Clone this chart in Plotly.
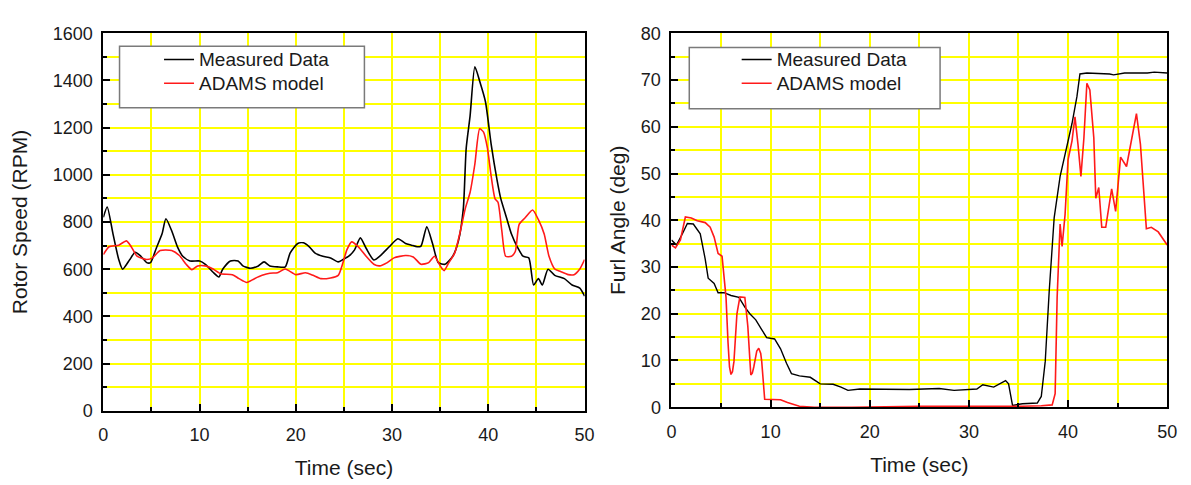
import plotly.graph_objects as go

# ---------------- data ----------------
# Left panel: Rotor speed (RPM)
rs_meas_t = [0, 0.4, 1.0, 1.6, 2.0, 2.75, 3.3, 3.9, 4.5, 4.9, 5.5, 6.1, 6.5, 7.1, 7.7, 8.25, 9.0, 10.0,
             10.6, 11.4, 12.0, 12.4, 13.2, 14.0, 14.5, 15.3, 16.1, 16.7, 17.3, 18.1, 18.9, 19.4, 20.2,
             20.8, 21.4, 22.0, 22.8, 23.6, 24.4, 24.9, 25.5, 26.1, 26.7, 27.3, 28.1, 28.9, 29.7, 30.6,
             31.4, 32.0, 32.6, 33.0, 33.6, 34.2, 34.8, 35.5, 36.3, 36.9, 37.4, 37.7, 38.1, 38.6, 39.1,
             39.7, 40.3, 40.9, 41.3, 41.8, 42.4, 43.0, 43.6, 44.2, 44.7, 45.2, 45.6, 46.2, 46.9, 47.9,
             48.7, 49.5, 50.0]
rs_meas_v = [820, 864, 750, 641, 600, 641, 672, 655, 628, 628, 689, 750, 814, 763, 695, 655, 635, 635,
             621, 587, 567, 600, 635, 635, 614, 604, 614, 631, 614, 610, 610, 668, 709,
             712, 695, 668, 655, 648, 631, 641, 655, 682, 733, 689, 639, 662, 695, 729,
             709, 702, 695, 698, 780, 709, 628, 621, 655, 722, 857, 1114, 1249, 1458, 1397,
             1310, 1127, 979, 898, 830, 749, 695, 655, 648, 533, 560, 533, 600, 574, 560,
             533, 520, 486]

rs_model_t = [0, 0.6, 1.6, 2.4, 2.9, 3.5, 4.5, 5.1, 5.9, 7.1, 7.9, 8.6, 9.2, 9.8, 10.6, 11.4, 12.2,
              13.4, 14.1, 14.9, 15.7, 16.5, 17.3, 18.1, 18.9, 20.0, 21.0, 21.8, 22.6, 23.6, 24.4,
              24.9, 25.3, 25.8, 26.5, 27.3, 28.1, 28.7, 29.5, 30.2, 31.4, 32.2, 33.0, 33.8, 34.4,
              35.0, 35.4, 35.9, 36.5, 37.1, 37.6, 38.1, 38.6, 39.1, 39.5, 39.9, 40.3, 40.7, 41.0,
              41.4, 41.8, 42.4, 42.8, 43.2, 43.8, 44.6, 45.2, 45.8, 46.3, 46.9, 47.5, 48.3, 48.9,
              49.5, 50.0]
rs_model_v = [662, 695, 702, 720, 695, 655, 641, 648, 679, 679, 658, 621, 598, 614, 614, 601, 581,
              577, 560, 544, 560, 574, 583, 585, 601, 577, 585, 574, 560, 563, 574,
              628, 682, 716, 695, 655, 621, 614, 628, 648, 658, 652, 621, 628, 655,
              614, 594, 628, 668, 763, 857, 925, 1046, 1195, 1181, 1114, 992, 898, 884,
              763, 655, 655, 675, 790, 817, 851, 810, 749, 655, 601, 590, 577, 577,
              601, 641]

# Right panel: Furl angle (deg)
fa_meas_t = [0, 0.5, 1.1, 1.6, 2.2, 2.9, 3.4, 3.7, 4.3, 4.7, 5.3, 6.0, 6.8, 7.4, 7.9, 8.5, 9.1, 9.6,
             10.4, 11.0, 11.6, 12.1, 12.9, 14.0, 15.0, 16.3, 17.1, 17.8, 19.0, 22.0, 24.0, 27.0, 28.5,
             30.8, 31.4, 32.5, 33.7, 34.0, 34.4, 35.4, 36.9, 37.3, 37.7, 38.1, 38.6, 39.2, 39.8,
             40.4, 40.9, 41.2, 41.9, 44.2, 44.6, 45.7, 48.0, 48.7, 50.0]
fa_meas_v = [35.8, 34.7, 37.1, 39.3, 39.2, 37.1, 31.7, 27.6, 26.5, 24.5, 24.5, 23.9, 23.5, 21.4, 20.0,
             18.7, 16.6, 14.9, 14.6, 12.5, 9.4, 7.2, 6.7, 6.4, 5.0, 4.9, 4.3, 3.6, 3.9, 3.9, 3.8, 4.0,
             3.6, 3.9, 4.8, 4.3, 5.7, 5.0, 0.4, 0.75, 0.9, 2.3, 9.8, 24.8, 40.5, 49.4, 54.9,
             60.7, 66.5, 71.3, 71.5, 71.3, 71.1, 71.5, 71.5, 71.7, 71.5]

fa_model_t = [0, 0.4, 0.9, 1.4, 2.0, 2.6, 3.4, 3.9, 4.3, 4.7, 5.1, 5.5, 5.7, 5.85, 6.0, 6.15, 6.3, 6.6,
              6.9, 7.4, 7.7, 7.85, 8.0, 8.15, 8.3, 8.6, 8.8, 9.0, 9.1, 9.4, 9.8, 11.0, 11.7, 12.9,
              14.4, 18.2, 25.0, 31.6, 35.4, 37.3, 38.4, 38.7, 38.9, 39.2, 39.4, 39.7, 40.0, 40.4,
              40.7, 41.0, 41.3, 41.6, 41.9, 42.2, 42.6, 42.8, 43.1, 43.4, 43.8, 44.4, 44.8, 45.3,
              45.9, 46.5, 46.9, 47.3, 47.9, 48.4, 49.1, 50.0]
fa_model_v = [34.7, 34.1, 35.8, 40.7, 40.5, 39.9, 39.5, 38.5, 36.4, 32.9, 32.3, 23.5, 13.9, 8.6, 7.0,
              7.6, 9.8, 20.0, 23.6, 23.5, 17.3, 10.5, 6.9, 7.3, 8.6, 12.0, 12.6, 11.5, 9.8, 1.7,
              1.7, 1.6, 1.0, 0.2, 0.0, 0.0, 0.2, 0.1, 0.2, 0.3, 0.5, 2.9, 23.5, 39.2, 34.4, 41.2,
              52.9, 57.0, 62.1, 56.3, 49.4, 57.6, 69.3, 67.9, 57.6, 44.7, 47.0, 38.5, 38.5, 46.7,
              41.9, 53.5, 51.5, 58.3, 62.8, 56.3, 38.2, 38.5, 37.5, 34.7]

x_ticks = [0, 10, 20, 30, 40, 50]
rs_ticks = [0, 200, 400, 600, 800, 1000, 1200, 1400, 1600]
fa_ticks = [0, 10, 20, 30, 40, 50, 60, 70, 80]
series_names = ["Measured Data", "ADAMS model"]

# ---------------- figure ----------------
W, H = 1191, 485
FONT = "Liberation Sans, Arial, sans-serif"
TXT = "#1a1a1a"
GRID = "#ffff00"


def lname(s):
    return '<span style="font-size:19px">' + s + '</span>'


fig = go.Figure()
fig.add_trace(go.Scatter(x=rs_meas_t, y=rs_meas_v, mode="lines", name=lname(series_names[0]),
                         line=dict(color="black", width=1.6, shape="spline", smoothing=0.6),
                         xaxis="x", yaxis="y", legend="legend"))
fig.add_trace(go.Scatter(x=rs_model_t, y=rs_model_v, mode="lines", name=lname(series_names[1]),
                         line=dict(color="#ff1a1a", width=1.6, shape="spline", smoothing=0.6),
                         xaxis="x", yaxis="y", legend="legend"))
fig.add_trace(go.Scatter(x=fa_meas_t, y=fa_meas_v, mode="lines", name=lname(series_names[0]),
                         line=dict(color="black", width=1.4), xaxis="x2", yaxis="y2", legend="legend2"))
fig.add_trace(go.Scatter(x=fa_model_t, y=fa_model_v, mode="lines", name=lname(series_names[1]),
                         line=dict(color="#ff1a1a", width=1.6), xaxis="x2", yaxis="y2", legend="legend2"))


def xax(domain, anchor):
    return dict(domain=domain, anchor=anchor, range=[0, 50], tickvals=x_ticks,
                ticks="inside", ticklen=7, tickwidth=1.5, tickcolor="black",
                showline=True, linecolor="black", linewidth=2, mirror=True,
                showgrid=True, gridcolor=GRID, gridwidth=1.5,
                minor=dict(dtick=5, tick0=0, ticks="inside", ticklen=4, tickcolor="black",
                           showgrid=True, gridcolor=GRID, gridwidth=1.5),
                zeroline=False, ticklabelstandoff=7,
                tickfont=dict(family=FONT, size=18, color=TXT),
                title=dict(text="Time (sec)", font=dict(family=FONT, size=21, color=TXT), standoff=16))


def yax(domain, anchor, rng, ticks, minor_dt, title, standoff):
    return dict(domain=domain, anchor=anchor, range=rng, tickvals=ticks,
                ticks="inside", ticklen=7, tickwidth=1.5, tickcolor="black",
                showline=True, linecolor="black", linewidth=2, mirror=True,
                showgrid=True, gridcolor=GRID, gridwidth=1.5,
                minor=dict(dtick=minor_dt, tick0=0, ticks="inside", ticklen=4, tickcolor="black",
                           showgrid=True, gridcolor=GRID, gridwidth=1.5),
                zeroline=False, ticklabelstandoff=5,
                tickfont=dict(family=FONT, size=18, color=TXT),
                title=dict(text=title, font=dict(family=FONT, size=21, color=TXT), standoff=standoff))


fig.update_layout(
    width=W, height=H,
    margin=dict(l=0, r=0, t=0, b=0),
    paper_bgcolor="white", plot_bgcolor="white",
    font=dict(family=FONT, color=TXT),
    xaxis=xax([99.6 / W, 587 / W], "y"),
    yaxis=yax([1 - 418 / H, 1 - 24.3 / H], "x", [0, 1600], rs_ticks, 100, "Rotor Speed (RPM)", 19),
    xaxis2=xax([675 / W, 1177 / W], "y2"),
    yaxis2=yax([1 - 414.3 / H, 1 - 24.3 / H], "x2", [0, 80], fa_ticks, 5, "Furl Angle (deg)", 10),
    legend=dict(x=156 / W, y=1 - 34 / H, xanchor="left", yanchor="top",
                bgcolor="rgba(0,0,0,0)", borderwidth=0, tracegroupgap=0,
                font=dict(family=FONT, size=16, color=TXT)),
    legend2=dict(x=741 / W, y=1 - 34 / H, xanchor="left", yanchor="top",
                 bgcolor="rgba(0,0,0,0)", borderwidth=0, tracegroupgap=0,
                 font=dict(family=FONT, size=16, color=TXT)),
    shapes=[
        dict(type="rect", xref="paper", yref="paper", layer="above",
             x0=116 / W, x1=364 / W, y0=1 - 102 / H, y1=1 - 37.7 / H,
             fillcolor="white", line=dict(color="#7a7a7a", width=1.5)),
        dict(type="rect", xref="paper", yref="paper", layer="above",
             x0=693 / W, x1=947 / W, y0=1 - 103 / H, y1=1 - 39 / H,
             fillcolor="white", line=dict(color="#7a7a7a", width=1.5)),
    ],
    showlegend=True,
)

fig.write_html("out.html")
